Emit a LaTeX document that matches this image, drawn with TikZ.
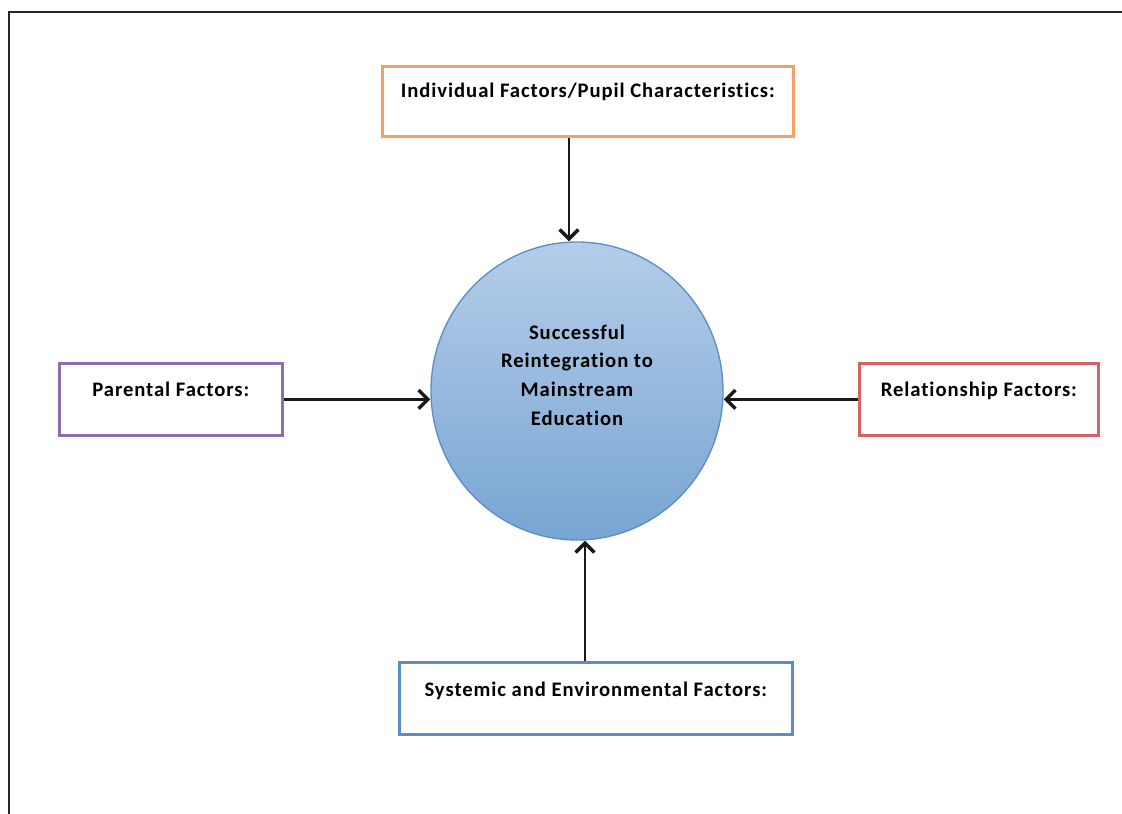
\documentclass[tikz,border=0pt]{standalone}
\usepackage{fontspec}
\setmainfont{Carlito}[Ligatures=NoCommon]
\usetikzlibrary{arrows.meta,shapes.geometric,calc}
\definecolor{cOrange}{HTML}{F7A064}
\definecolor{cPurple}{HTML}{8C6EAF}
\definecolor{cRed}{HTML}{D26464}
\definecolor{cBlue}{HTML}{5A8CC8}
\definecolor{cTop}{HTML}{B4CDE9}
\definecolor{cBot}{HTML}{78A5D2}
\definecolor{cEdge}{HTML}{5B8EC6}
\newcommand{\lblfont}{\bfseries\addfontfeature{LetterSpace=4.5}\fontsize{15.5pt}{16pt}\selectfont}
\tikzset{
  factor/.style={draw, line width=2pt, fill=white, rectangle, anchor=north west,
    inner sep=0pt, align=center, font=\lblfont},
  arr/.style={line width=2.2pt, -{Straight Barb[length=7pt,width=14pt,line width=2.6pt]}, black!90},
  frame/.style={line width=2.2pt, black!85}
}
\begin{document}
\begin{tikzpicture}[x=0.75pt,y=-0.75pt]
\useasboundingbox (0,0) rectangle (1122,814);
\clip (0,0) rectangle (1122,814);
\draw[frame] (9,830) -- (9,12) -- (1140,12);

\node[factor, draw=cOrange, minimum width=308.25pt, minimum height=52.5pt,
  text height=23.25pt, text depth=29.25pt] (top) at (381,65)
  {Individual Factors/Pupil Characteristics:};
\node[factor, draw=cPurple, minimum width=167.25pt, minimum height=54pt,
  text height=24.75pt, text depth=29.25pt] (par) at (58,362)
  {Parental Factors:};
\node[factor, draw=cRed, minimum width=179.25pt, minimum height=54pt,
  text height=24.75pt, text depth=29.25pt] (rel) at (858,362)
  {Relationship Factors:};
\node[factor, draw=cBlue, minimum width=294.75pt, minimum height=54pt,
  text height=25.5pt, text depth=28.5pt] (sys) at (398,661)
  {Systemic and Environmental Factors:};

\node[ellipse, draw=cEdge, line width=1pt, top color=cTop, bottom color=cBot,
  minimum width=219pt, minimum height=223.5pt, inner sep=0pt] (circ) at (577,391) {};
\node[align=center, font=\bfseries\addfontfeature{LetterSpace=4.5}\fontsize{15.5pt}{21.5pt}\selectfont, inner sep=0pt]
  (ctext) at (577,375) {Successful\\Reintegration to\\Mainstream\\Education};

\coordinate (tx) at ([xshift=-6pt]circ.north);
\coordinate (bx) at ([xshift=6pt]circ.south);
\draw[arr] (top.south -| tx) -- (tx);
\draw[arr] (par.east) -- (par.east -| circ.west);
\draw[arr] (rel.west) -- (rel.west -| circ.east);
\draw[arr] (sys.north -| bx) -- (bx);
\end{tikzpicture}
\end{document}
